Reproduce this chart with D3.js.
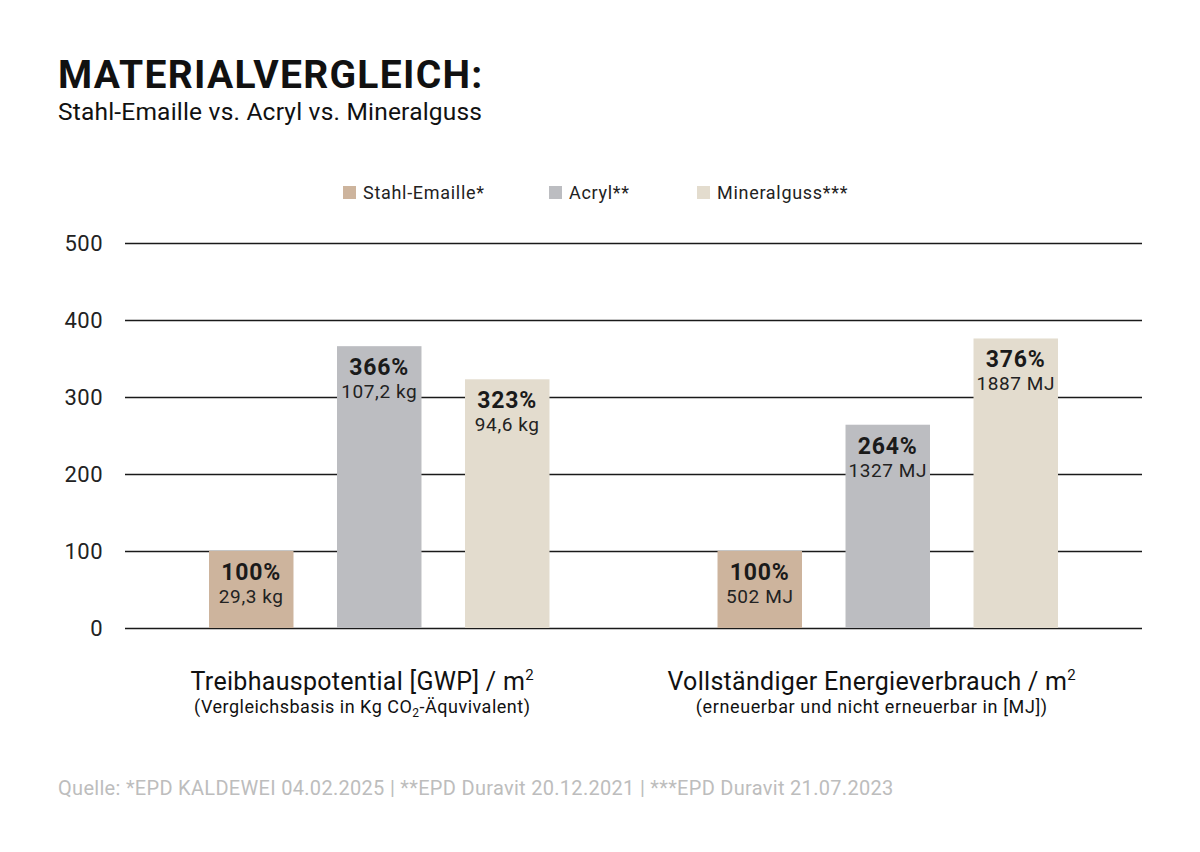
<!DOCTYPE html>
<html>
<head>
<meta charset="utf-8">
<script src="https://cdn.jsdelivr.net/npm/d3@7"></script>
<style>
  body { margin: 0; background: #fff; }
  svg text { font-family: "Roboto", "Liberation Sans", sans-serif; }
</style>
</head>
<body>
<div id="chart"></div>
<script>
const groups = ["Treibhauspotential", "Energieverbrauch"];
const materials = ["Stahl-Emaille*", "Acryl**", "Mineralguss***"];
const percents = [[100, 366, 323], [100, 264, 376]];
const absLabels = [["29,3 kg", "107,2 kg", "94,6 kg"], ["502 MJ", "1327 MJ", "1887 MJ"]];
const yTicks = [0, 100, 200, 300, 400, 500];
const colors = ["#cdb49d", "#bcbdc1", "#e3dcce"];

const W = 1200, H = 852;
const svg = d3.select("#chart").append("svg")
    .attr("width", W)
    .attr("height", H);

// titel
svg.append("text")
    .attr("x", 58).attr("y", 88)
    .attr("font-size", 39).attr("font-weight", 700)
    .attr("letter-spacing", 1.3)
    .attr("fill", "#111")
    .text("MATERIALVERGLEICH:");
svg.append("text")
    .attr("x", 58).attr("y", 120)
    .attr("font-size", 24.5)
    .attr("letter-spacing", 0.2)
    .attr("fill", "#111")
    .text("Stahl-Emaille vs. Acryl vs. Mineralguss");

const x0 = d3.scaleBand().domain(groups).range([125, 1142]);
const x1 = d3.scaleBand().domain(materials).range([-192, 192]).paddingInner(0.34).paddingOuter(0.17);
const y = d3.scaleLinear().domain([0, 500]).range([628, 243]);

// grid
svg.append("g").selectAll("line")
    .data(yTicks)
    .enter().append("line")
    .attr("x1", 125).attr("x2", 1142)
    .attr("y1", d => Math.round(y(d)) + 0.5).attr("y2", d => Math.round(y(d)) + 0.5)
    .attr("stroke", "#1a1a1a").attr("stroke-width", 1.3);

svg.append("g").selectAll("text")
    .data(yTicks)
    .enter().append("text")
    .attr("x", 103).attr("y", d => y(d) + 8)
    .attr("text-anchor", "end")
    .attr("font-size", 22)
    .attr("letter-spacing", 0.5)
    .attr("fill", "#222")
    .text(d => d);

// bars
const rows = [];
groups.forEach((g, gi) => materials.forEach((m, mi) => {
    rows.push({ g, m, mi, v: percents[gi][mi], abs: absLabels[gi][mi] });
}));

const cx = d => x0(d.g) + x0.bandwidth() / 2 + x1(d.m);

svg.append("g").selectAll("rect")
    .data(rows)
    .enter().append("rect")
    .attr("x", cx)
    .attr("y", d => y(d.v))
    .attr("width", x1.bandwidth())
    .attr("height", d => y(0) - y(d.v))
    .attr("fill", d => colors[d.mi]);

const lbl = svg.append("g").selectAll("g")
    .data(rows)
    .enter().append("g")
    .attr("transform", d => `translate(${cx(d) + x1.bandwidth() / 2},${y(d.v)})`);
lbl.append("text")
    .attr("y", 29)
    .attr("text-anchor", "middle")
    .attr("font-size", 23).attr("font-weight", 700)
    .attr("letter-spacing", 0.8)
    .attr("fill", "#1a1a1a")
    .text(d => d.v + "%");
lbl.append("text")
    .attr("y", 52)
    .attr("text-anchor", "middle")
    .attr("font-size", 19)
    .attr("letter-spacing", 0.6)
    .attr("fill", "#222")
    .text(d => d.abs);

// legend
const legX = [343, 549, 697];
const leg = svg.append("g").selectAll("g")
    .data(materials)
    .enter().append("g")
    .attr("transform", (d, i) => `translate(${legX[i]},186)`);
leg.append("rect")
    .attr("width", 13).attr("height", 13)
    .attr("fill", (d, i) => colors[i]);
leg.append("text")
    .attr("x", 20).attr("y", 13)
    .attr("font-size", 18)
    .attr("letter-spacing", 0.7)
    .attr("fill", "#222")
    .text(d => d);

// kategorie-beschriftung
const cat = svg.append("g");
const c1 = x0(groups[0]) + x0.bandwidth() / 2 - 17;
const c2 = x0(groups[1]) + x0.bandwidth() / 2 - 16;

const t1 = cat.append("text")
    .attr("x", c1).attr("y", 690)
    .attr("text-anchor", "middle").attr("font-size", 25)
    .attr("letter-spacing", 0.3).attr("fill", "#111");
t1.append("tspan").text("Treibhauspotential [GWP] / m");
t1.append("tspan").attr("font-size", 15).attr("dy", -10).text("2");

const s1 = cat.append("text")
    .attr("x", c1).attr("y", 713)
    .attr("text-anchor", "middle").attr("font-size", 18)
    .attr("letter-spacing", 0.5).attr("fill", "#111");
s1.append("tspan").text("(Vergleichsbasis in Kg CO");
s1.append("tspan").attr("font-size", 12).attr("dy", 4).text("2");
s1.append("tspan").attr("dy", -4).text("-Äquvivalent)");

const t2 = cat.append("text")
    .attr("x", c2).attr("y", 690)
    .attr("text-anchor", "middle").attr("font-size", 25)
    .attr("letter-spacing", 0.3).attr("fill", "#111");
t2.append("tspan").text("Vollständiger Energieverbrauch / m");
t2.append("tspan").attr("font-size", 15).attr("dy", -10).text("2");

cat.append("text")
    .attr("x", c2).attr("y", 713)
    .attr("text-anchor", "middle").attr("font-size", 18)
    .attr("letter-spacing", 0.6).attr("fill", "#111")
    .text("(erneuerbar und nicht erneuerbar in [MJ])");

// quelle
svg.append("text")
    .attr("x", 58).attr("y", 795)
    .attr("font-size", 20)
    .attr("letter-spacing", 0.3)
    .attr("fill", "#bdbdbd")
    .text("Quelle: *EPD KALDEWEI 04.02.2025 | **EPD Duravit 20.12.2021 | ***EPD Duravit 21.07.2023");
</script>
</body>
</html>
